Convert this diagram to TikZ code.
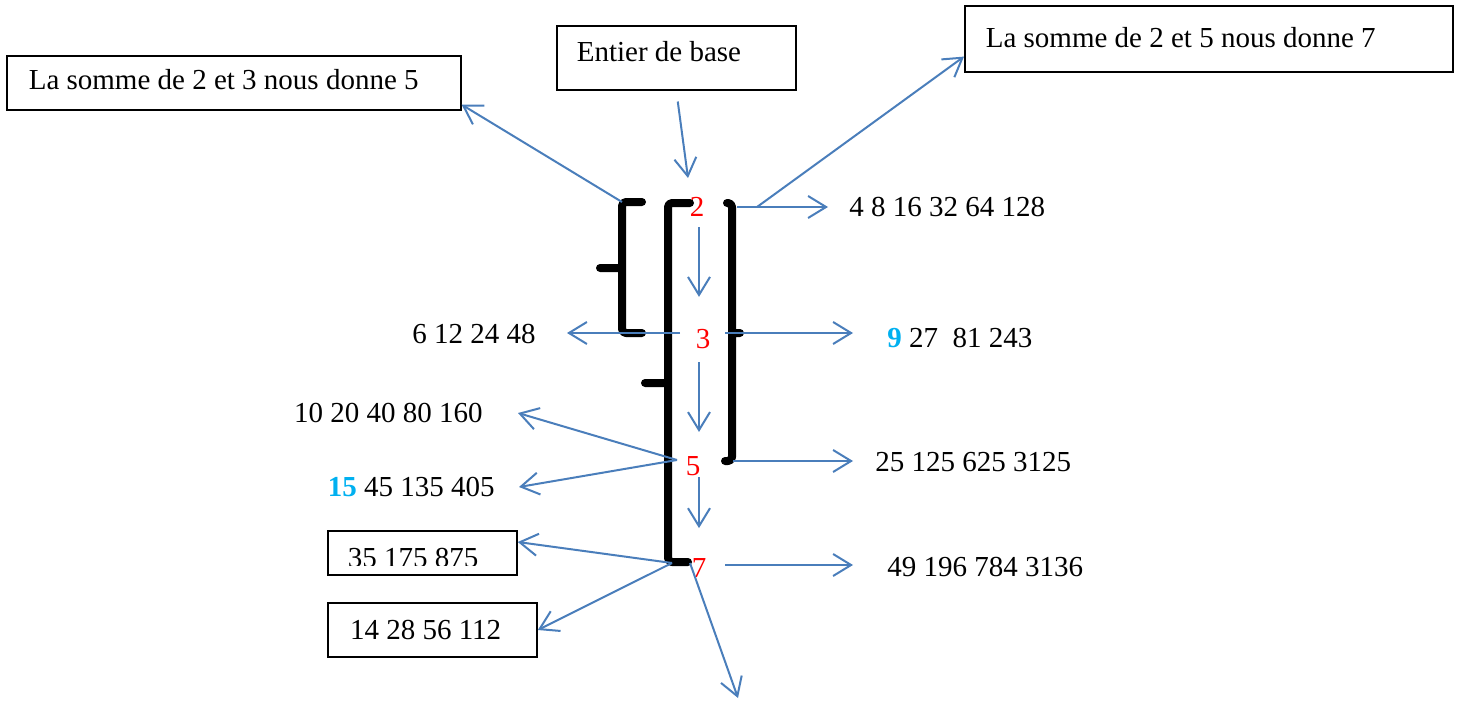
\documentclass[tikz,border=0pt]{standalone}
\usepackage{fontspec}
\setmainfont{Liberation Serif}
\usetikzlibrary{arrows.meta}
\definecolor{arrowblue}{RGB}{74,126,187}
\definecolor{numcyan}{RGB}{0,176,240}

\begin{document}
\begin{tikzpicture}[x=0.5pt,y=-0.5pt]
        \tikzstyle{every node}=[font=\fontsize{14.5}{17}\selectfont]
        \tikzstyle{box}=[draw,line width=0.8pt,align=flush left]
        \tikzstyle{txt}=[inner sep=0pt]
        \tikzstyle{rednum}=[inner sep=0pt,text=red]
        \tikzstyle{arr}=[draw=arrowblue,line width=1pt,-{Straight Barb[length=9pt,width=11pt]}]
        \tikzstyle{brk}=[line width=4pt,line cap=round,line join=round,rounded corners=2pt]

            \useasboundingbox (0,0) rectangle (1461,701);

            \node[box,anchor=north west,text width=205pt,inner xsep=11pt,inner ysep=7pt,text height=10pt,text depth=3pt] (bA) at (6,55) {La somme de 2 et 3 nous donne 5};
            \node[box,anchor=north west,text width=99.5pt,inner xsep=10pt,inner ysep=8pt,text height=10pt,text depth=6pt] (bB) at (556,25) {Entier de base};
            \node[box,anchor=north west,text width=223pt,inner xsep=10.5pt,inner ysep=8pt,text height=13pt,text depth=4pt] (bC) at (964,5) {La somme de 2 et 5 nous donne 7};
            \node[box,minimum width=94.5pt,minimum height=22pt,inner sep=0pt] (b35) at (422.5,553) {};
            \node[box,text width=82.5pt,inner xsep=11pt,minimum height=27pt] (b14) at (432.5,630) {14 28 56 112};
            \begin{scope}
                \clip (328,531) rectangle (517,565);
                \node[txt,anchor=base] (t35) at (413,567) {35 175 875};
            \end{scope}

            \node[rednum] (n2) at (697,207) {2};
            \node[rednum] (n3) at (703,339) {3};
            \node[rednum] (n5) at (693,466) {5};
            \node[rednum] (n7) at (699,568) {7};

            \node[txt,anchor=west] (p2) at (849,207) {4 8 16 32 64 128};
            \node[txt,anchor=west] (p3) at (887,338) {{\bfseries\color{numcyan}9} 27\ \ 81 243};
            \node[txt,anchor=west] (p5) at (875,462) {25 125 625 3125};
            \node[txt,anchor=west] (p7) at (887,567) {49 196 784 3136};
            \node[txt,anchor=east] (q3) at (536,334) {6 12 24 48};
            \node[txt,anchor=east] (q5a) at (483,413) {10 20 40 80 160};
            \node[txt,anchor=east] (q5b) at (495,487) {{\bfseries\color{numcyan}15} 45 135 405};

            \draw[brk] (642,202) -| (622,333) -- (642,333)
            (600,268) -- (622,268);
            \draw[brk] (690,203) -| (668,562) -- (688,562)
            (645,383) -- (668,383);
            \draw[brk] (727,203) -| (732,461) -- (725,461)
            (732,333) -- (740,333);

            \coordinate (col) at (699,0);
            \coordinate (in2) at (688,178);
            \coordinate (sA) at (622,202);
            \coordinate (sC) at (757,207);
            \coordinate (s2) at (737,207);
            \coordinate (s3l) at (680,333);
            \coordinate (s3r) at (725,333);
            \coordinate (s5l) at (677,460);
            \coordinate (s5r) at (733,461);
            \coordinate (s7l) at (672,563);
            \coordinate (s7r) at (725,565);
            \coordinate (s7d) at (690,563);
            \coordinate (e7d) at (738,698);

            \draw[arr,shorten <=5.5pt] (bB.south) -- (in2);
            \draw[arr] (sA) -- ([yshift=3pt]bA.south east);
            \draw[arr] (sC) -- ([yshift=8pt]bC.south west);
            \draw[arr,shorten >=10.5pt] (s2) -- (s2 -| p2.west);
            \draw[arr,shorten >=17pt] (s3r) -- (s3r -| p3.west);
            \draw[arr,shorten >=11pt] (s5r) -- (s5r -| p5.west);
            \draw[arr,shorten >=17pt] (s7r) -- (s7r -| p7.west);
            \draw[arr,shorten >=15.5pt] (s3l) -- (s3l -| q3.east);
            \draw[arr] (s5l) -- ([xshift=17.5pt]q5a.east);
            \draw[arr] (s5l) -- ([xshift=12pt]q5b.east);
            \draw[arr] (s7l) -- ([yshift=5.5pt]b35.east);
            \draw[arr] (s7l) -- (b14.east);
            \draw[arr] (s7d) -- (e7d);
            \draw[arr,shorten <=5pt,shorten >=16pt] (n2.south -| col) -- (n3.north -| col);
            \draw[arr,shorten <=6.6pt,shorten >=12pt] (n3.south -| col) -- (n5.north -| col);
            \draw[arr,shorten <=0.6pt,shorten >=15pt] (n5.south -| col) -- (n7.north -| col);
        \end{tikzpicture}
\end{document}
